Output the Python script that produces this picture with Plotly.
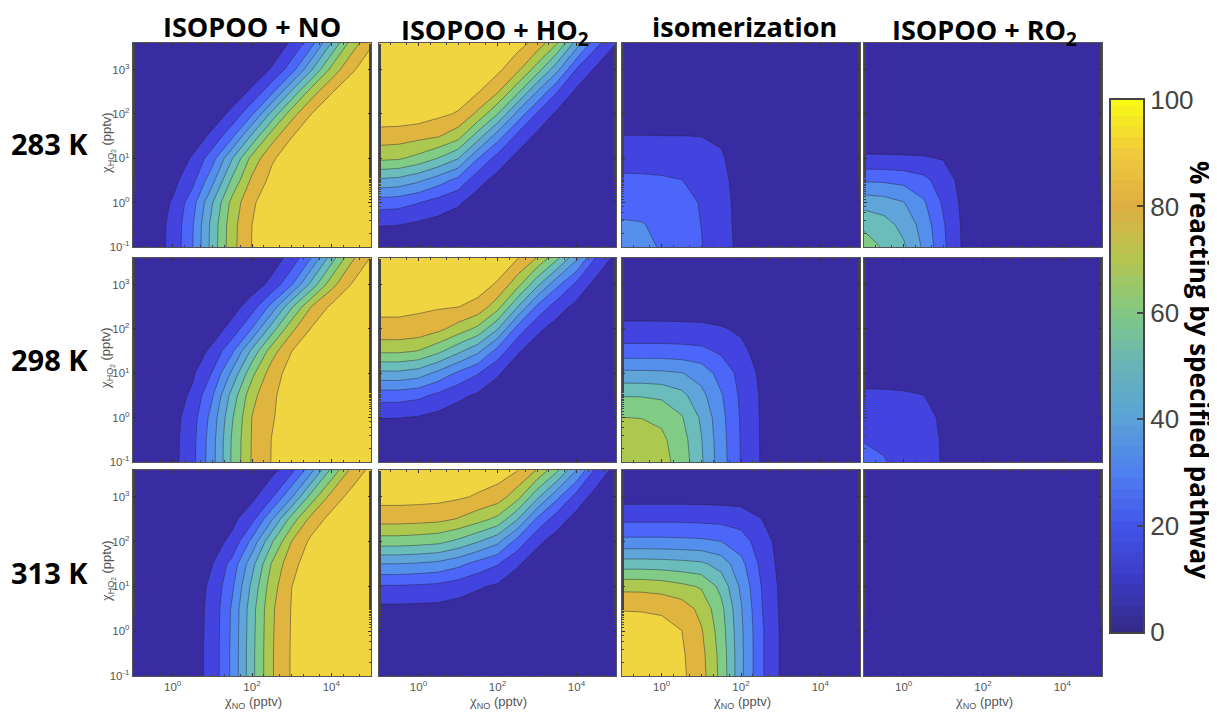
import plotly.graph_objects as go

# the page body has an 8 px margin, so the figure is a little smaller and every px position is shifted by OFF
PAGE_W, PAGE_H, OFF = 1217, 712, 8
W, H = PAGE_W - OFF, PAGE_H - OFF

# NO mixing ratio (pptv), HO2 mixing ratio (pptv)
chi_no = [0.1, 0.316, 1, 3.16, 10, 31.6, 100, 316, 1000, 3160, 10000, 31600, 100000]
chi_ho2 = [0.1, 0.316, 1, 3.16, 10, 31.6, 100, 316, 1000, 3980]

temps = ["283 K", "298 K", "313 K"]
titles = ["ISOPOO + NO", "ISOPOO + HO<sub>2</sub>", "isomerization", "ISOPOO + RO<sub>2</sub>"]

no_283 = [
    [1.9, 5, 12.9, 29.5, 54, 76.8, 90.4, 96.3, 98.6, 99.5, 99.8, 99.9, 100],
    [1.9, 4.9, 12.6, 29, 53.5, 76.4, 90, 96.2, 98.6, 99.5, 99.8, 99.9, 100],
    [1.6, 4.2, 11, 25.8, 49.5, 73.4, 88.6, 95.6, 98.4, 99.4, 99.8, 99.9, 100],
    [1, 2.6, 6.8, 17, 37, 62, 82.2, 92.9, 97.3, 99, 99.6, 99.9, 100],
    [.6, 1.6, 4.2, 11, 25.8, 49.5, 73.4, 88.6, 95.6, 98.4, 99.4, 99.8, 99.9],
    [.2, .6, 1.8, 4.6, 12.2, 27.8, 52, 75.3, 89.6, 96, 98.5, 99.4, 99.8],
    [.1, .2, .7, 1.8, 4.8, 12.4, 28.6, 53, 76, 90.1, 96.2, 98.6, 99.5],
    [0, .1, .2, .6, 1.7, 4.5, 11.8, 27.4, 51.5, 75, 89.4, 96, 98.5],
    [0, 0, .1, .2, .5, 1.5, 4.1, 10.8, 25.4, 49, 73, 88.4, 95.5],
    [0, 0, 0, .1, .2, .5, 1.6, 4.3, 11.2, 26.2, 50.2, 73.8, 88.8],
]
ho2_283 = [
    [4, 3.8, 3.1, 2.3, 1.6, .7, .3, .1, 0, 0, 0, 0, 0],
    [10.4, 10.1, 8, 6.2, 4.4, 2, .9, .4, .1, 0, 0, 0, 0],
    [24.6, 23.7, 20.3, 15.7, 11.4, 5.2, 2.4, 1, .4, .1, 0, 0, 0],
    [48, 46.5, 41.7, 34.5, 26.6, 13.4, 6.3, 2.6, 1.1, .4, .1, 0, 0],
    [72.3, 71.3, 66.8, 59.7, 50.5, 30.4, 16, 7, 2.9, 1.2, .4, .1, 0],
    [85.5, 85, 83, 80.7, 74, 55, 35, 17.5, 7.6, 3.1, 1.1, .4, .1],
    [96.5, 96.3, 95.5, 92.2, 89, 77.6, 60.3, 37, 19, 8, 2.9, 1.1, .4],
    [98.2, 98.1, 97.8, 97, 95.8, 90.8, 81, 62.5, 39.7, 20.5, 7.8, 3, 1.2],
    [99.3, 99.3, 99.2, 98.9, 98.4, 96.5, 92.4, 82.5, 65, 43, 19.3, 8, 3.2],
    [99.8, 99.8, 99.8, 99.6, 99.5, 98.9, 97.6, 94.2, 86.6, 71, 45.5, 23, 10.2],
]
iso_283 = [
    [34, 33, 29, 24, 20.5, 13, 8, 3, 1, .3, .1, 0, 0],
    [31, 30.5, 28, 23.5, 19.9, 12.7, 7.8, 3, 1, .3, .1, 0, 0],
    [27, 26.8, 25.5, 22.5, 19.5, 12.5, 7.6, 2.9, 1, .3, .1, 0, 0],
    [22, 21.8, 21.3, 20.2, 17, 12, 7, 2.7, .9, .3, .1, 0, 0],
    [16, 15.8, 15.5, 15, 13.5, 10.8, 6.5, 2.5, .8, .2, .1, 0, 0],
    [10.2, 10.2, 10.1, 10.1, 9.9, 9, 5.5, 2, .6, .2, .1, 0, 0],
    [5, 5, 5, 5, 5, 4.5, 3, 1, .4, .1, 0, 0, 0],
    [2, 2, 2, 2, 2, 1.8, 1.2, .5, .2, .1, 0, 0, 0],
    [.7, .7, .7, .7, .7, .6, .4, .2, .1, 0, 0, 0, 0],
    [.2, .2, .2, .2, .2, .2, .1, .1, 0, 0, 0, 0, 0],
]
ro2_283 = [
    [65, 59, 51.5, 38.5, 22, 8.5, 2, .5, .1, 0, 0, 0, 0],
    [58, 54, 47, 36, 21, 8.3, 2, .5, .1, 0, 0, 0, 0],
    [46, 44.5, 40.5, 31.5, 18.5, 7.5, 1.8, .4, .1, 0, 0, 0, 0],
    [29, 28.5, 27, 23, 15, 6.5, 1.5, .4, .1, 0, 0, 0, 0],
    [11.5, 11.4, 11.2, 10.8, 9.5, 4.5, 1, .3, .1, 0, 0, 0, 0],
    [3.5, 3.5, 3.4, 3.3, 3, 1.5, .4, .1, 0, 0, 0, 0, 0],
    [1, 1, 1, .9, .8, .4, .1, 0, 0, 0, 0, 0, 0],
    [.3, .3, .3, .3, .2, .1, 0, 0, 0, 0, 0, 0, 0],
    [.1, .1, .1, .1, .1, 0, 0, 0, 0, 0, 0, 0, 0],
    [0, 0, 0, 0, 0, 0, 0, 0, 0, 0, 0, 0, 0],
]

no_298 = [
    [1, 2.6, 6.7, 17, 36.4, 61.7, 81, 90.5, 96.5, 99, 99.6, 99.8, 99.9],
    [1, 2.5, 6.5, 16.7, 36, 61.3, 80.7, 90.3, 96.4, 98.9, 99.6, 99.8, 99.9],
    [.9, 2.3, 6.1, 15.4, 34, 59, 80.3, 89, 96, 98.8, 99.6, 99.8, 99.9],
    [.7, 1.9, 4.6, 12, 29, 54, 76.8, 88.5, 94.5, 97.8, 99.2, 99.7, 99.9],
    [.5, 1.2, 3.2, 8.4, 20.7, 42.3, 67.3, 85.3, 94.2, 97.8, 99.2, 99.7, 99.9],
    [.2, .6, 1.8, 4.8, 12.2, 28.2, 52.5, 75.7, 89.9, 96.2, 98.6, 99.5, 99.8],
    [.1, .3, .7, 2, 5.2, 13.4, 30.4, 55, 77.6, 90.8, 96.5, 98.7, 99.5],
    [0, .1, .2, .8, 2.3, 6, 15.2, 33.6, 58.8, 80.3, 92, 96.9, 98.8],
    [0, 0, .1, .2, .7, 1.9, 5, 12.8, 29.2, 53.5, 76.4, 90.2, 96.3],
    [0, 0, 0, .1, .3, .7, 2, 5.2, 13.4, 30.4, 55, 77.6, 90.8],
]
ho2_298 = [
    [1.5, 1.5, 1.3, 1, .6, .4, .2, .1, 0, 0, 0, 0, 0],
    [3.9, 3.9, 3.5, 2.6, 1.8, 1.2, .6, .2, .1, 0, 0, 0, 0],
    [10.2, 10.2, 9.2, 7, 4.8, 3.2, 1.6, .6, .2, .1, 0, 0, 0],
    [24.3, 24.3, 22.4, 17.5, 12.2, 8.4, 4.3, 1.6, .6, .3, .1, 0, 0],
    [47.5, 47.5, 44.9, 37, 28.2, 20.7, 11.2, 4.3, 1.8, .8, .4, .1, 0],
    [71.8, 71.8, 69.6, 62.5, 52.5, 42.3, 26.2, 11.2, 4.8, 2.2, 1, .3, .1],
    [87.7, 87.7, 86.6, 82.5, 75.7, 67.3, 50.5, 26.2, 12.2, 5.8, 2.6, .9, .3],
    [92, 92, 91.5, 91, 90.2, 87, 73.8, 50.5, 28.2, 14.7, 7, 2.4, .8],
    [97, 97, 97, 97, 96.2, 94.2, 88.8, 73.8, 52.5, 32.7, 17.5, 6.3, 2.2],
    [99.5, 99.5, 99.4, 99.2, 98.8, 98.2, 96.5, 90.7, 79.5, 62.5, 42.3, 19, 7],
]
iso_298 = [
    [77, 76, 73.5, 66, 51.5, 34.5, 19.5, 9.5, 3, .8, .2, 0, 0],
    [75, 74.5, 72, 64.5, 50.5, 34, 19.3, 9.4, 3, .8, .2, 0, 0],
    [70.1, 69.8, 68, 61, 48.5, 33, 19, 9.3, 3, .8, .2, 0, 0],
    [59.5, 59.3, 58, 53, 43, 31, 18, 9, 3, .8, .2, 0, 0],
    [42.5, 42.4, 42, 40.5, 36, 26, 17, 8, 2.7, .7, .2, 0, 0],
    [24, 24, 24, 23.5, 22.5, 18.5, 12.5, 6, 2, .5, .1, 0, 0],
    [12.5, 12.5, 12.4, 12.3, 12, 10.8, 8.5, 4.5, 1.5, .4, .1, 0, 0],
    [5.5, 5.5, 5.4, 5.4, 5.2, 4.8, 4, 2.5, .9, .3, .1, 0, 0],
    [2, 2, 2, 2, 1.9, 1.8, 1.5, 1, .4, .1, 0, 0, 0],
    [.5, .5, .5, .5, .5, .4, .4, .3, .1, 0, 0, 0, 0],
]
ro2_298 = [
    [26, 21, 15, 12.5, 9.5, 3.5, 1, .3, .1, 0, 0, 0, 0],
    [19, 17.5, 14.5, 12.3, 9.4, 3.5, 1, .3, .1, 0, 0, 0, 0],
    [14, 13.8, 13, 11.8, 9, 3.3, 1, .3, .1, 0, 0, 0, 0],
    [11.5, 11.4, 11, 10.1, 7.5, 3, .9, .3, .1, 0, 0, 0, 0],
    [6.5, 6.5, 6.3, 6, 5, 2, .6, .2, 0, 0, 0, 0, 0],
    [2.5, 2.5, 2.4, 2.3, 2, 1, .3, .1, 0, 0, 0, 0, 0],
    [1, 1, 1, .9, .8, .4, .1, 0, 0, 0, 0, 0, 0],
    [.3, .3, .3, .3, .2, .1, 0, 0, 0, 0, 0, 0, 0],
    [.1, .1, .1, .1, .1, 0, 0, 0, 0, 0, 0, 0, 0],
    [0, 0, 0, 0, 0, 0, 0, 0, 0, 0, 0, 0, 0],
]

no_313 = [
    [.3, .8, 2.2, 5.6, 13.5, 32.3, 57, 79, 91, 96.7, 98.8, 99.5, 99.8],
    [.3, .8, 2.2, 5.6, 13.5, 32.3, 57, 79, 91, 96.7, 98.8, 99.5, 99.8],
    [.3, .8, 2.1, 5.5, 13.3, 32, 56.5, 78.7, 90.8, 96.6, 98.8, 99.5, 99.8],
    [.3, .8, 2.1, 5.4, 13, 31.5, 56, 78.3, 90.6, 96.5, 98.7, 99.5, 99.8],
    [.2, .6, 1.8, 4.8, 12.2, 28.2, 52.5, 75.7, 89.9, 96.2, 98.6, 99.5, 99.8],
    [.2, .5, 1.4, 3.7, 9.8, 23.5, 46.5, 71, 87.2, 95, 98, 99.3, 99.7],
    [.1, .2, .8, 2.2, 6, 12.5, 33, 58.8, 80.3, 92.5, 96.9, 98.8, 99.5],
    [0, .1, .4, 1, 2.8, 7.4, 17, 39, 64.6, 83.7, 93.6, 97.5, 99],
    [0, 0, .1, .4, 1, 2.8, 7.4, 18.7, 39, 64.6, 83.7, 93.6, 97.5],
    [0, 0, 0, .1, .4, 1, 2.6, 6.8, 17, 37, 62, 82.2, 92.9],
]
ho2_313 = [
    [.4, .4, .4, .4, .3, .2, .1, .1, 0, 0, 0, 0, 0],
    [1.1, 1.1, 1, 1, .8, .6, .4, .2, .1, 0, 0, 0, 0],
    [2.9, 2.9, 2.8, 2.6, 2.2, 1.6, 1.2, .6, .2, .1, 0, 0, 0],
    [7.6, 7.6, 7.3, 7, 5.8, 4.3, 3.2, 1.6, .6, .3, .1, 0, 0],
    [19, 19, 18.3, 17.5, 14.7, 11.2, 8.4, 4.3, 1.8, .8, .4, .1, 0],
    [39.7, 39.7, 38.7, 37, 32.7, 26.2, 20.7, 11.2, 4.8, 2.2, .9, .3, .1],
    [65, 65, 64, 62.5, 57.5, 50.5, 42.3, 26.2, 12.2, 5.8, 2.4, .8, .3],
    [84, 84, 83.4, 82.5, 79.3, 73.8, 67.3, 50.5, 28.2, 14.7, 6.3, 2.2, .7],
    [93.7, 93.7, 93.5, 93, 91.5, 88.8, 85.3, 73.8, 52.5, 32.7, 16, 5.8, 1.9],
    [98, 98, 97.9, 97.8, 97.3, 96.5, 95.2, 90.7, 79.5, 62.5, 40.3, 17.5, 6.3],
]
iso_313 = [
    [98, 97.5, 96, 92, 84, 67, 42.5, 22, 9, 2.5, .7, .2, 0],
    [97, 96.8, 95.5, 91.5, 83, 66.5, 42.5, 22, 9, 2.5, .7, .2, 0],
    [94.5, 94.3, 93.5, 90.2, 81, 65, 42, 22, 9, 2.5, .7, .2, 0],
    [89.5, 89.3, 88.5, 85.5, 77, 63, 41, 21, 8.5, 2.4, .7, .2, 0],
    [77, 76.8, 75.5, 72.5, 69, 57, 38, 20.3, 8, 2.3, .6, .2, 0],
    [55, 55, 54.5, 53.5, 52, 46, 33, 18, 7, 2, .5, .1, 0],
    [33, 33, 33, 32.5, 32, 30.2, 25, 15, 6.5, 1.8, .4, .1, 0],
    [18, 18, 18, 18, 17.5, 17, 15.5, 10.3, 4, 1, .3, 0, 0],
    [6, 6, 6, 6, 6, 5.8, 5.5, 4, 2, .6, .1, 0, 0],
    [1.5, 1.5, 1.5, 1.5, 1.5, 1.4, 1.3, 1, .5, .2, 0, 0, 0],
]
ro2_313 = [
    [6, 5, 4, 3, 2, .5, .2, .1, 0, 0, 0, 0, 0],
    [5, 4.5, 3.5, 2.8, 1.8, .5, .2, .1, 0, 0, 0, 0, 0],
    [3.5, 3.2, 2.8, 2.2, 1.5, .4, .1, 0, 0, 0, 0, 0, 0],
    [2, 2, 1.8, 1.5, 1, .3, .1, 0, 0, 0, 0, 0, 0],
    [1, 1, .9, .8, .6, .2, 0, 0, 0, 0, 0, 0, 0],
    [.4, .4, .4, .3, .2, .1, 0, 0, 0, 0, 0, 0, 0],
    [.1, .1, .1, .1, .1, 0, 0, 0, 0, 0, 0, 0, 0],
    [0, 0, 0, 0, 0, 0, 0, 0, 0, 0, 0, 0, 0],
    [0, 0, 0, 0, 0, 0, 0, 0, 0, 0, 0, 0, 0],
    [0, 0, 0, 0, 0, 0, 0, 0, 0, 0, 0, 0, 0],
]

grids = [
    [no_283, ho2_283, iso_283, ro2_283],
    [no_298, ho2_298, iso_298, ro2_298],
    [no_313, ho2_313, iso_313, ro2_313],
]

band_colors = ["#392BA2", "#4343E0", "#4C66FA", "#558FEE", "#5FA5D9",
               "#6ABDBA", "#80CC86", "#ADC84F", "#E0B53F", "#F0D440"]
# plotly maps the colorscale from the first band centre (fraction 0) to the last band centre (fraction 1)
band_scale = [[i / (len(band_colors) - 1), c] for i, c in enumerate(band_colors)]

ramp_levels = [0, 2, 4, 6, 8, 10, 12, 14, 16, 18, 20, 22, 24, 26, 28, 30, 32, 34, 36, 38, 40, 42, 44, 46, 48, 50,
               52, 54, 56, 58, 60, 62, 64, 66, 68, 70, 72, 74, 76, 78, 80, 82, 84, 86, 88, 90, 92, 94, 96, 98, 100]
ramp_scale = [[0, "#352A87"], [.1, "#3A3BC4"], [.2, "#4354EA"], [.3, "#4F80F0"], [.4, "#5AA2D8"],
              [.5, "#66B4B8"], [.6, "#82C884"], [.7, "#B4C650"], [.8, "#DDAF42"], [.9, "#F1C93C"], [1, "#F9FB15"]]

col_px = [(133, 371), (379, 616), (622, 860), (864, 1102)]
row_px = [(43, 247), (258, 462), (470, 676)]
GRAY = "#555555"
x_ticks = [1, 100, 10000]
x_text = ["10<sup>0</sup>", "10<sup>2</sup>", "10<sup>4</sup>"]
y_ticks = [0.1, 1, 10, 100, 1000]
y_text = ["10<sup>-1</sup>", "10<sup>0</sup>", "10<sup>1</sup>", "10<sup>2</sup>", "10<sup>3</sup>"]

def fx(px):
    return (px - OFF) / W

def fy(py):
    return 1 - (py - OFF) / H

fig = go.Figure()
layout = {}
n = 0
for r, (y0, y1) in enumerate(row_px):
    for c, (x0, x1) in enumerate(col_px):
        n += 1
        fig.add_trace(go.Contour(
            x=chi_no, y=chi_ho2, z=grids[r][c], xaxis=f"x{n}", yaxis=f"y{n}",
            zmin=0, zmax=100, colorscale=band_scale, showscale=False, autocontour=False,
            contours=dict(start=10, end=90, size=10, coloring="fill", showlines=True),
            line=dict(color="rgba(35,35,55,0.65)", width=0.7, smoothing=0),
            hoverinfo="skip",
        ))
        layout[f"xaxis{n}"] = dict(
            domain=[fx(x0), fx(x1)], anchor=f"y{n}", type="log", range=[-1, 5], automargin=False,
            tickvals=x_ticks, ticktext=x_text if r == 2 else ["", "", ""],
            ticks="inside", ticklen=3, tickwidth=1, tickcolor="#333",
            minor=dict(ticks="inside", ticklen=1.5, tickcolor="#444", tickwidth=0.7),
            showgrid=False, zeroline=False, showline=True, linecolor=GRAY, linewidth=1.2, mirror="ticks",
            tickfont=dict(family="Liberation Sans", size=11.5, color=GRAY),
        )
        layout[f"yaxis{n}"] = dict(
            domain=[fy(y1), fy(y0)], anchor=f"x{n}", type="log", range=[-1, 3.6], automargin=False,
            tickvals=y_ticks, ticktext=y_text if c == 0 else [""] * 5,
            ticks="inside", ticklen=3, tickwidth=1, tickcolor="#333",
            minor=dict(ticks="inside", ticklen=1.5, tickcolor="#444", tickwidth=0.7),
            showgrid=False, zeroline=False, showline=True, linecolor=GRAY, linewidth=1.2, mirror="ticks",
            tickfont=dict(family="Liberation Sans", size=11.5, color=GRAY),
        )

# colour ramp axis
n += 1
fig.add_trace(go.Heatmap(
    x=[0], y=ramp_levels, z=[[v] for v in ramp_levels], xaxis=f"x{n}", yaxis=f"y{n}",
    zmin=0, zmax=100, colorscale=ramp_scale, showscale=False, hoverinfo="skip",
))
layout[f"xaxis{n}"] = dict(domain=[fx(1111), fx(1143)], anchor=f"y{n}", showticklabels=False, ticks="", automargin=False,
                           showgrid=False, zeroline=False, showline=True, linecolor="#444", linewidth=2, mirror=True)
layout[f"yaxis{n}"] = dict(domain=[fy(632), fy(100)], anchor=f"x{n}", side="right", range=[0, 100], automargin=False,
                           tickvals=[0, 20, 40, 60, 80, 100], ticks="inside", ticklen=6, tickwidth=1.5, tickcolor="#444",
                           showgrid=False, zeroline=False, showline=True, linecolor="#444", linewidth=2, mirror=True,
                           tickfont=dict(family="Liberation Sans", size=26, color="#444"))

ann = []
def text(px, py, s, size, color="black", bold=False, family="Open Sans", angle=0):
    ann.append(dict(x=fx(px), y=fy(py), xref="paper", yref="paper", text=f"<b>{s}</b>" if bold else s,
                    showarrow=False, textangle=angle, xanchor="center", yanchor="middle",
                    font=dict(family=family, size=size, color=color)))

CHI = '<span style="font-family:Liberation Serif;font-size:15px">χ</span>'
title_x = [252, 495, 744, 984]
title_y = [27, 31, 27, 31]
for px, py, t in zip(title_x, title_y, titles):
    text(px, py, t, 27, bold=True)
for (y0, y1), t in zip(row_px, temps):
    text(49, (y0 + y1) / 2 - 1, t, 29, bold=True)
for (x0, x1) in col_px:
    text((x0 + x1) / 2 + 0.5, 702, CHI + "<sub>NO</sub> (pptv)", 13, color=GRAY, family="Liberation Sans")
for (y0, y1) in row_px:
    text(107, (y0 + y1) / 2 - 2, CHI + "<sub>HO<sub>2</sub></sub> (pptv)", 13, color=GRAY, family="Liberation Sans", angle=-90)
text(1200, 370, "% reacting by specified pathway", 26, bold=True, angle=90)

fig.update_layout(width=W, height=H, margin=dict(l=0, r=0, t=0, b=0), autosize=False,
                  paper_bgcolor="white", plot_bgcolor=band_colors[0], showlegend=False,
                  annotations=ann, **layout)
fig.write_html("out.html")
